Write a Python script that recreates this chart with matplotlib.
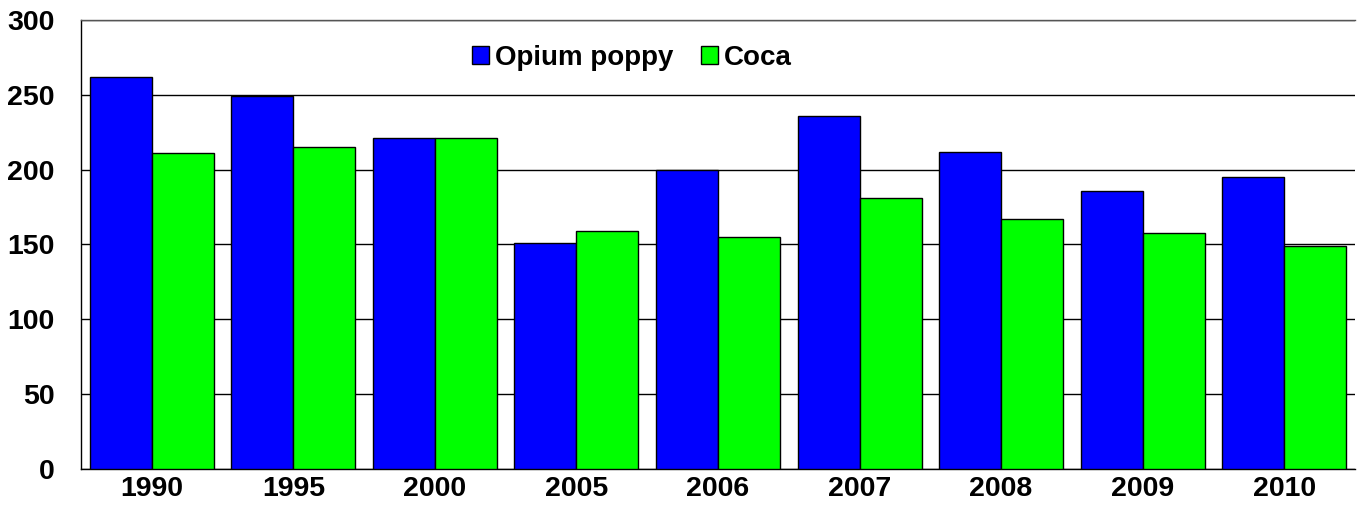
import numpy as np
import matplotlib.pyplot as plt

plt.rcParams['font.family'] = ['Liberation Sans', 'DejaVu Sans']
plt.rcParams['font.weight'] = 'bold'

years = ['1990', '1995', '2000', '2005', '2006', '2007', '2008', '2009', '2010']
opium = [262, 249, 221, 151, 200, 236, 212, 186, 195]
coca = [211, 215, 221, 159, 155, 181, 167, 158, 149]

fig = plt.figure(figsize=(13.57, 5.09), dpi=100)
ax = fig.add_axes([0.0597, 0.0786, 0.9388, 0.8821])

x = np.arange(len(years))
w = 0.438
ax.bar(x - w / 2, opium, w, color='#0000FF', edgecolor='black', linewidth=1, label='Opium poppy', zorder=3)
ax.bar(x + w / 2, coca, w, color='#00FF00', edgecolor='black', linewidth=1, label='Coca', zorder=3)

ax.set_xlim(-0.5, len(years) - 0.5)
ax.set_ylim(0, 300)
ax.set_yticks(range(0, 301, 50))
ax.yaxis.grid(True, color='black', linewidth=1, zorder=0)
ax.set_xticks(x)
ax.set_xticklabels(years, fontsize=20.5, fontweight='bold')
ax.tick_params(axis='y', labelsize=20.5, length=0, pad=19)
ax.tick_params(axis='x', length=0, pad=5)
for s in ax.spines.values():
    s.set_linewidth(1)
    s.set_color('black')
ax.spines['top'].set_color('#555555')
ax.spines['right'].set_visible(False)

ax.legend(loc='upper left', bbox_to_anchor=(0.2875, 1.0), ncol=2, frameon=False,
          handlelength=0.6, handleheight=0.6, handletextpad=0.22,
          columnspacing=1.0, prop={'weight': 'bold', 'size': 20})

fig.savefig('out.png', dpi=100)
